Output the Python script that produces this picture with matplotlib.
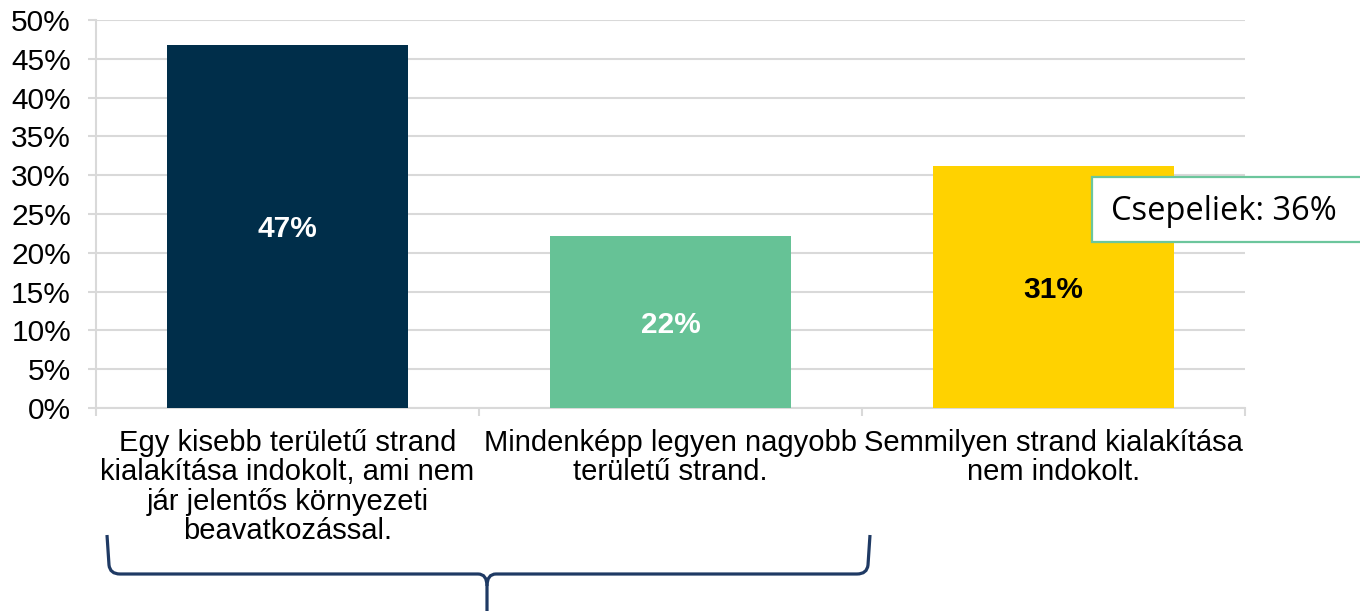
import matplotlib
matplotlib.use("Agg")
import matplotlib.pyplot as plt
from matplotlib.path import Path
from matplotlib.patches import PathPatch, Rectangle

categories = [
    "Egy kisebb területű strand\nkialakítása indokolt, ami nem\njár jelentős környezeti\nbeavatkozással.",
    "Mindenképp legyen nagyobb\nterületű strand.",
    "Semmilyen strand kialakítása\nnem indokolt.",
]
values = [46.8, 22.2, 31.2]
value_labels = ["47%", "22%", "31%"]
bar_colors = ["#002E4A", "#66C296", "#FFD200"]
label_colors = ["white", "white", "black"]
yticks = list(range(0, 55, 5))
note_text = "Csepeliek: 36%"

plt.rcParams['font.family'] = ['Liberation Sans', 'DejaVu Sans']

W, H = 1360, 611
fig = plt.figure(figsize=(W / 100, H / 100), dpi=100)
ax = fig.add_axes([96 / W, 1 - 408 / H, (1245 - 96) / W, (408 - 20) / H])

x = list(range(len(values)))
ax.bar(x, values, width=0.627, color=bar_colors, zorder=3)
for xi, v, lab, c in zip(x, values, value_labels, label_colors):
    ax.text(xi, v / 2, lab, ha="center", va="center_baseline", color=c,
            fontsize=21.5, fontweight="bold", zorder=4)

ax.set_xlim(-0.5, 2.5)
ax.set_ylim(0, 50)
ax.set_yticks(yticks)
ax.set_yticklabels([f"{t}%" for t in yticks], fontsize=21.5)
ax.yaxis.grid(True, color="#D9D9D9", linewidth=1.5, zorder=0)
ax.set_axisbelow(True)

ax.set_xticks(x)
ax.set_xticklabels([])
ax.set_xticks([-0.5, 0.5, 1.5, 2.5], minor=True)
ax.tick_params(axis="x", which="major", length=0)
ax.tick_params(axis="x", which="minor", length=6, width=1.5, color="#D9D9D9")
ax.tick_params(axis="y", length=6, width=1.5, color="#D9D9D9", pad=12)

for s in ["top", "right"]:
    ax.spines[s].set_visible(False)
for s in ["left", "bottom"]:
    ax.spines[s].set_color("#D9D9D9")
    ax.spines[s].set_linewidth(1.5)

for xi, cat in zip(x, categories):
    ax.text(xi, -0.055, cat, transform=ax.get_xaxis_transform(),
            ha="center", va="top", fontsize=21, linespacing=1.05)


def px(xp, yp):
    return (xp / W, 1 - yp / H)


# annotation box (runs off the right edge like the original)
bx0, by0 = px(1092, 242)
bx1, by1 = px(1372, 177)
fig.add_artist(Rectangle((bx0, by0), bx1 - bx0, by1 - by0,
                         transform=fig.transFigure, facecolor="white",
                         edgecolor="#6CC69C", linewidth=1.6, zorder=10))
fig.text(1111 / W, 1 - 211 / H, note_text, ha="left", va="center",
         fontsize=23.5, family=["Open Sans", "DejaVu Sans"], color="black",
         zorder=11)

# brace
brace_color = "#1F3A64"
verts = [px(107, 535), px(109, 565), px(110, 574), px(120, 574),
         px(478, 574), px(487, 574), px(487, 586), px(487, 612)]
codes = [Path.MOVETO, Path.LINETO, Path.CURVE3, Path.CURVE3,
         Path.LINETO, Path.CURVE3, Path.CURVE3, Path.LINETO]
fig.add_artist(PathPatch(Path(verts, codes), transform=fig.transFigure,
                         fill=False, edgecolor=brace_color, linewidth=2.3))
verts2 = [px(870, 535), px(868, 565), px(867, 574), px(857, 574),
          px(496, 574), px(487, 574), px(487, 586)]
codes2 = [Path.MOVETO, Path.LINETO, Path.CURVE3, Path.CURVE3,
          Path.LINETO, Path.CURVE3, Path.CURVE3]
fig.add_artist(PathPatch(Path(verts2, codes2), transform=fig.transFigure,
                         fill=False, edgecolor=brace_color, linewidth=2.3))

fig.savefig("out.png", dpi=100)
